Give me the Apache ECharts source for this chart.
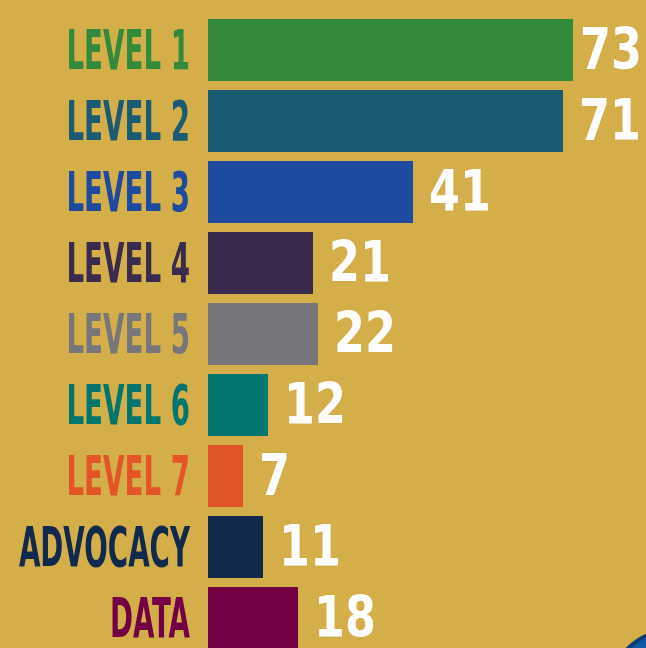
<!DOCTYPE html>
<html>
<head>
<meta charset="utf-8">
<script src="https://cdn.jsdelivr.net/npm/echarts@6/dist/echarts.min.js"></script>
<style>
html, body { margin: 0; padding: 0; background: #D4AE48; overflow: hidden; }
#chart { width: 646px; height: 660px; }
</style>
</head>
<body>
<div id="chart"></div>
<script>
var categories = ['LEVEL 1', 'LEVEL 2', 'LEVEL 3', 'LEVEL 4', 'LEVEL 5', 'LEVEL 6', 'LEVEL 7', 'ADVOCACY', 'DATA'];
var values = [73, 71, 41, 21, 22, 12, 7, 11, 18];
var colors = ['#338A3A', '#1B5A73', '#1E4AA0', '#3A2A4D', '#77777B', '#00766E', '#E35427', '#10294D', '#730044'];

var myChart = echarts.init(document.getElementById('chart'));

myChart.setOption({
    backgroundColor: '#D4AE48',
    animation: false,
    grid: {
        left: 208,
        right: 38,
        top: 14.5,
        height: 639
    },
    xAxis: {
        type: 'value',
        min: 0,
        max: 80,
        show: false
    },
    yAxis: {
        type: 'category',
        inverse: true,
        data: categories,
        show: false
    },
    graphic: [{
        type: 'circle',
        shape: { cx: 670, cy: 690, r: 59 },
        style: { fill: '#1259A3', stroke: '#0A3E78', lineWidth: 4 },
        silent: true
    }],
    series: [
        {
            type: 'bar',
            barWidth: 62,
            data: values.map(function (v, i) {
                return { value: v, itemStyle: { color: colors[i] } };
            })
        },
        {
            // category names and value numbers, condensed like the original
            type: 'custom',
            clip: false,
            silent: true,
            data: values.map(function (v, i) { return [v, i]; }),
            renderItem: function (params, api) {
                var idx = api.value(1);
                var start = api.coord([0, idx]);
                var end = api.coord([api.value(0), idx]);
                var vx = Math.min(end[0] + 16, api.getWidth() - 66);
                return {
                    type: 'group',
                    children: [{
                        type: 'text',
                        x: start[0] - 18,
                        y: start[1] + 4,
                        scaleX: 0.55,
                        style: {
                            text: categories[idx],
                            fill: colors[idx],
                            font: 'bold 56px "DejaVu Sans Condensed", "DejaVu Sans"',
                            align: 'right',
                            verticalAlign: 'middle'
                        }
                    }, {
                        type: 'text',
                        x: vx,
                        y: end[1] + 4,
                        scaleX: 0.78,
                        style: {
                            text: String(api.value(0)),
                            fill: '#FFFFFF',
                            font: 'bold 57px "DejaVu Sans"',
                            align: 'left',
                            verticalAlign: 'middle'
                        }
                    }]
                };
            }
        }
    ]
});
</script>
</body>
</html>
